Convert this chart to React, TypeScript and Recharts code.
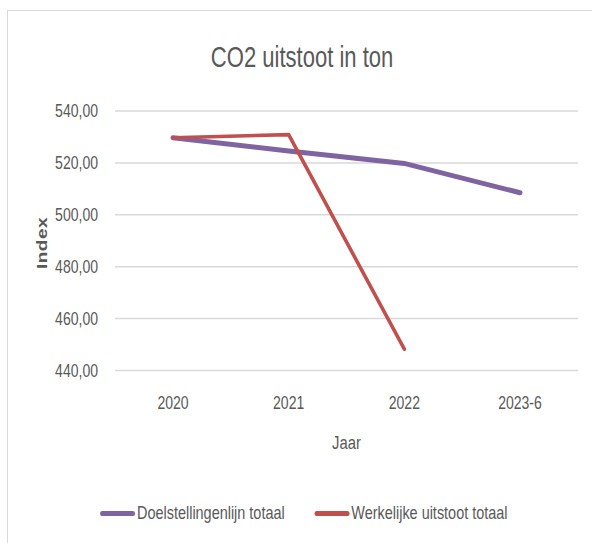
import React from 'react';
import { LineChart, Line, XAxis, YAxis, CartesianGrid } from 'recharts';

const categories = ['2020', '2021', '2022', '2023-6'];
const doelstellingenlijn = [529.7, 524.6, 519.8, 508.5];
const werkelijkeUitstoot: (number | null)[] = [529.7, 530.9, 448.2, null];
const yTicks = [440, 460, 480, 500, 520, 540];

const seriesInfo = [
  { key: 'doel', name: 'Doelstellingenlijn totaal', color: '#8064A2', width: 5 },
  { key: 'werk', name: 'Werkelijke uitstoot totaal', color: '#C0504D', width: 3.6 },
];

const data = categories.map((c, i) => ({
  jaar: c,
  doel: doelstellingenlijn[i],
  werk: werkelijkeUitstoot[i],
}));

const FONT = '"Liberation Sans", Arial, sans-serif';
const TEXT = '#595959';
const K = 0.78;

const fmt = (v: number) => v.toFixed(2).replace('.', ',');

const YTick = (props: any) => {
  const { x, y, payload } = props;
  return (
    <g transform={`translate(${x},${y}) scale(${K},1)`}>
      <text x={0} y={0} dy="0.36em" textAnchor="end" fill={TEXT} fontSize={18} fontFamily={FONT}>
        {fmt(payload.value)}
      </text>
    </g>
  );
};

const XTick = (props: any) => {
  const { x, y, payload } = props;
  return (
    <g transform={`translate(${x},${y}) scale(${K},1)`}>
      <text x={0} y={0} dy="0.36em" textAnchor="middle" fill={TEXT} fontSize={18} fontFamily={FONT}>
        {payload.value}
      </text>
    </g>
  );
};

export default function App() {
  return (
    <div
      style={{
        position: 'fixed',
        left: 0,
        top: 0,
        width: 592,
        height: 543,
        overflow: 'hidden',
        background: '#fff',
        fontFamily: FONT,
      }}
    >
      <div
        style={{
          position: 'absolute',
          left: 7,
          top: 10,
          width: 620,
          height: 600,
          border: '1.5px solid #d9d9d9',
        }}
      />
      <div
        style={{
          position: 'absolute',
          left: 0,
          width: 605,
          top: 41,
          textAlign: 'center',
          fontSize: 29,
          color: TEXT,
          lineHeight: '32px',
          whiteSpace: 'nowrap',
        }}
      >
        <span style={{ display: 'inline-block', transform: 'scaleX(0.76)', transformOrigin: 'center' }}>
          CO2 uitstoot in ton
        </span>
      </div>
      <div style={{ position: 'absolute', left: 0, top: 0 }}>
        <LineChart
          width={592}
          height={543}
          data={data}
          margin={{ top: 111, right: 14, bottom: 92.5, left: 50 }}
        >
          <CartesianGrid vertical={false} stroke="#d9d9d9" strokeWidth={1.5} />
          <XAxis
            dataKey="jaar"
            axisLine={false}
            tickLine={false}
            tickSize={0}
            tickMargin={32}
            height={80}
            padding={{ left: 58, right: 58 }}
            interval={0}
            tick={<XTick />}
            label={{
              content: (p: any) => {
                const vb = p.viewBox || { x: 115, width: 463 };
                const cx = vb.x + vb.width / 2;
                return (
                  <g transform={`translate(${cx},442) scale(${K},1)`}>
                    <text x={0} y={0} dy="0.36em" textAnchor="middle" fill={TEXT} fontSize={19} fontFamily={FONT}>
                      Jaar
                    </text>
                  </g>
                );
              },
            }}
          />
          <YAxis
            domain={[440, 540]}
            ticks={yTicks}
            axisLine={false}
            tickLine={false}
            tickSize={0}
            tickMargin={17}
            width={65}
            interval={0}
            tick={<YTick />}
            label={{
              content: () => (
                <g transform={`translate(42,243) scale(${K},1) rotate(-90)`}>
                  <text
                    x={0}
                    y={0}
                    dy="0.36em"
                    textAnchor="middle"
                    fill={TEXT}
                    fontSize={19}
                    fontWeight="bold"
                    letterSpacing={0.5}
                    fontFamily={FONT}
                  >
                    Index
                  </text>
                </g>
              ),
            }}
          />
          {seriesInfo.map((s) => (
            <Line
              key={s.key}
              type="linear"
              dataKey={s.key}
              name={s.name}
              stroke={s.color}
              strokeWidth={s.width}
              strokeLinecap="round"
              dot={false}
              activeDot={false}
              isAnimationActive={false}
              connectNulls={false}
            />
          ))}
        </LineChart>
      </div>
      <div
        style={{
          position: 'absolute',
          left: 100,
          top: 503,
          display: 'flex',
          alignItems: 'center',
          fontSize: 18.5,
          color: TEXT,
          lineHeight: '20px',
          whiteSpace: 'nowrap',
          transform: `scaleX(${K})`,
          transformOrigin: 'left center',
        }}
      >
        {seriesInfo.map((s, i) => (
          <div
            key={s.key}
            style={{ display: 'flex', alignItems: 'center', marginLeft: i === 0 ? 0 : 38 }}
          >
            <span
              style={{
                display: 'inline-block',
                width: 45,
                height: 5,
                borderRadius: 3,
                background: s.color,
                marginRight: 2.5,
              }}
            />
            <span>{s.name}</span>
          </div>
        ))}
      </div>
    </div>
  );
}
